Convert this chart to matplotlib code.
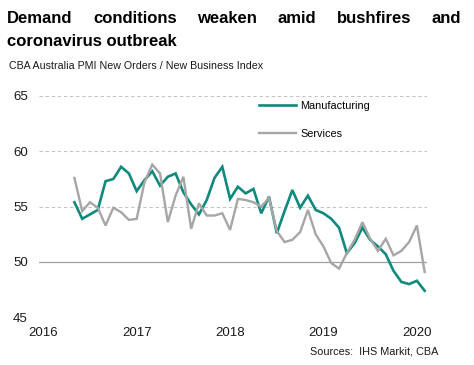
import numpy as np
import matplotlib
matplotlib.use('Agg')
import matplotlib.pyplot as plt
from matplotlib.lines import Line2D

plt.rcParams['font.family'] = ['Liberation Sans', 'DejaVu Sans']

# months counted from Jan 2016 (0); series runs May 2016 .. Feb 2020
start_month = 4
manufacturing = [55.4, 53.9, 54.3, 54.7, 57.3, 57.5, 58.6, 58.0,
                 56.4, 57.4, 58.2, 56.9, 57.7, 58.0, 56.3, 55.2, 54.3, 55.6, 57.6, 58.6,
                 55.7, 56.8, 56.2, 56.6, 54.4, 55.9, 52.6, 54.6, 56.5, 54.9, 56.0, 54.7,
                 54.4, 53.9, 53.1, 50.8, 51.7, 53.1, 52.0, 51.4, 50.7, 49.2, 48.2, 48.0,
                 48.3, 47.4]
services = [57.6, 54.6, 55.4, 54.9, 53.3, 54.9, 54.5, 53.8,
            53.9, 57.2, 58.8, 58.0, 53.6, 56.0, 57.7, 53.0, 55.3, 54.2, 54.2, 54.4,
            52.9, 55.7, 55.6, 55.4, 55.0, 55.8, 52.8, 51.8, 52.0, 52.7, 54.7, 52.5,
            51.4, 49.9, 49.4, 50.8, 52.0, 53.6, 52.1, 51.0, 52.1, 50.6, 51.0, 51.8,
            53.3, 49.1]
year_labels = ['2016', '2017', '2018', '2019', '2020']
y_ticks = [45, 50, 55, 60, 65]

W, H = 474, 365
fig = plt.figure(figsize=(W / 100, H / 100), dpi=100)
ax = fig.add_axes([39 / W, 1 - 317.3 / H, (427 - 39) / W, (317.3 - 96) / H])

x = start_month + np.arange(len(manufacturing))
teal = '#0f8a7c'
grey = '#a6a6a6'

for yv in y_ticks:
    if yv == 50:
        ax.axhline(yv, color='#a0a0a0', lw=0.9, zorder=1)
    else:
        ax.axhline(yv, color='#c4c4c4', lw=0.8, ls=(0, (3, 2.5)), zorder=1)

ax.plot(x, manufacturing, color=teal, lw=1.9, zorder=3, solid_joinstyle='miter')
ax.plot(x, services, color=grey, lw=1.7, zorder=4, solid_joinstyle='miter')

ax.set_xlim(-0.55, 49.3)
ax.set_ylim(45, 65)
ax.set_xticks([0, 12, 24, 36, 48])
ax.set_xticklabels(year_labels)
ax.set_yticks(y_ticks)
ax.tick_params(length=0, labelsize=9.5, colors='#1a1a1a')
ax.tick_params(axis='x', pad=7)
ax.tick_params(axis='y', pad=8)
for s in ax.spines.values():
    s.set_visible(False)

handles = [Line2D([], [], color=teal, lw=1.9), Line2D([], [], color=grey, lw=1.7)]
leg = ax.legend(handles, ['Manufacturing', 'Services'], loc='upper left',
                bbox_to_anchor=(259 / W, 1 - 101 / H), bbox_transform=fig.transFigure,
                frameon=False, fontsize=7.8, handlelength=3.4, handletextpad=0.4,
                labelspacing=1.65, borderpad=0, borderaxespad=0)

# title, first line justified across the width
fig.canvas.draw()
r = fig.canvas.get_renderer()
words = 'Demand conditions weaken amid bushfires and'.split()
x0, x1 = 7, 461
tw = [fig.text(0, 1 - 23 / H, w_, fontsize=12, fontweight='bold', va='baseline') for w_ in words]
widths = [t.get_window_extent(r).width for t in tw]
gap = (x1 - x0 - sum(widths)) / (len(words) - 1)
pos = x0
for t, wd in zip(tw, widths):
    t.set_x(pos / W)
    pos += wd + gap
fig.text(x0 / W, 1 - 46 / H, 'coronavirus outbreak', fontsize=12, fontweight='bold', va='baseline')

fig.text(9 / W, 1 - 69 / H, 'CBA Australia PMI New Orders / New Business Index',
         fontsize=7.7, va='baseline', color='#1a1a1a')
fig.text(438 / W, 1 - 355 / H, 'Sources:  IHS Markit, CBA', fontsize=7.8,
         ha='right', va='baseline', color='#1a1a1a')

fig.savefig('out.png', dpi=100)
